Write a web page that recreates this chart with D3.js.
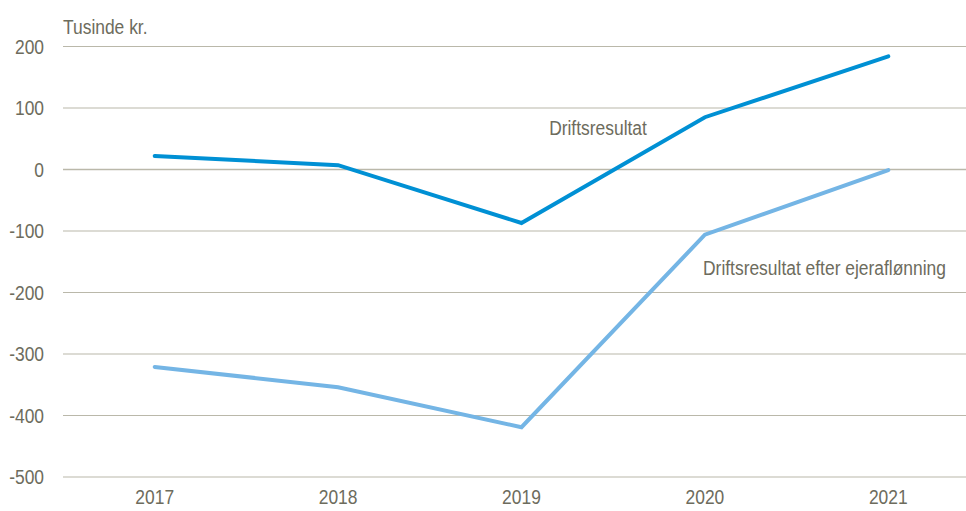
<!DOCTYPE html>
<html>
<head>
<meta charset="utf-8">
<script src="https://cdn.jsdelivr.net/npm/d3@7"></script>
<style>
  body { margin: 0; background: #fff; }
  svg text { font-family: "Liberation Sans", Arial, sans-serif; fill: #6d6c5d; font-size: 21px; }
</style>
</head>
<body>
<svg id="chart" width="966" height="511"></svg>
<script>
// data (thousand kr.)
const years = ["2017", "2018", "2019", "2020", "2021"];
const drift = [22, 7, -87, 85, 184];
const driftEfter = [-321, -354, -419, -106, -1];
const yTicks = [200, 100, 0, -100, -200, -300, -400, -500];

const svg = d3.select('#chart');
const plotLeft = 63, plotRight = 980;
const plotTop = 46.5, plotBottom = 477;
const narrow = 0.83; // the original font is a condensed one

const x = d3.scalePoint()
    .domain(years)
    .range([plotLeft, plotRight])
    .padding(0.5);

const y = d3.scaleLinear()
    .domain([-500, 200])
    .range([plotBottom, plotTop]);

const place = (px, py) => `translate(${px},${py}) scale(${narrow},1)`;

// gridlines
svg.append('g')
    .selectAll('line')
    .data(yTicks)
    .join('line')
    .attr('x1', plotLeft)
    .attr('x2', plotRight)
    .attr('y1', d => y(d))
    .attr('y2', d => y(d))
    .attr('stroke', '#bab8aa')
    .attr('stroke-width', d => d === 0 ? 1.6 : 1.2);

// y tick labels
svg.append('g')
    .selectAll('text')
    .data(yTicks)
    .join('text')
    .attr('transform', d => place(44, y(d)))
    .attr('dy', '0.35em')
    .attr('text-anchor', 'end')
    .text(d => d);

// x tick labels
svg.append('g')
    .selectAll('text')
    .data(years)
    .join('text')
    .attr('transform', d => place(x(d), 497))
    .attr('dy', '0.35em')
    .attr('text-anchor', 'middle')
    .text(d => d);

svg.append('text')
    .attr('transform', place(63, 34))
    .text('Tusinde kr.');

const line = d3.line()
    .x((d, i) => x(years[i]))
    .y(d => y(d));

svg.append('path')
    .datum(driftEfter)
    .attr('d', line)
    .attr('fill', 'none')
    .attr('stroke', '#74b5e5')
    .attr('stroke-width', 4)
    .attr('stroke-linecap', 'round')
    .attr('stroke-linejoin', 'miter');

svg.append('path')
    .datum(drift)
    .attr('d', line)
    .attr('fill', 'none')
    .attr('stroke', '#0090d4')
    .attr('stroke-width', 4)
    .attr('stroke-linecap', 'round')
    .attr('stroke-linejoin', 'miter');

// series labels
svg.append('text')
    .attr('transform', place(598, 128))
    .attr('dy', '0.35em')
    .attr('text-anchor', 'middle')
    .text('Driftsresultat');

svg.append('text')
    .attr('transform', place(703, 268))
    .attr('dy', '0.35em')
    .text('Driftsresultat efter ejeraflønning');
</script>
</body>
</html>
